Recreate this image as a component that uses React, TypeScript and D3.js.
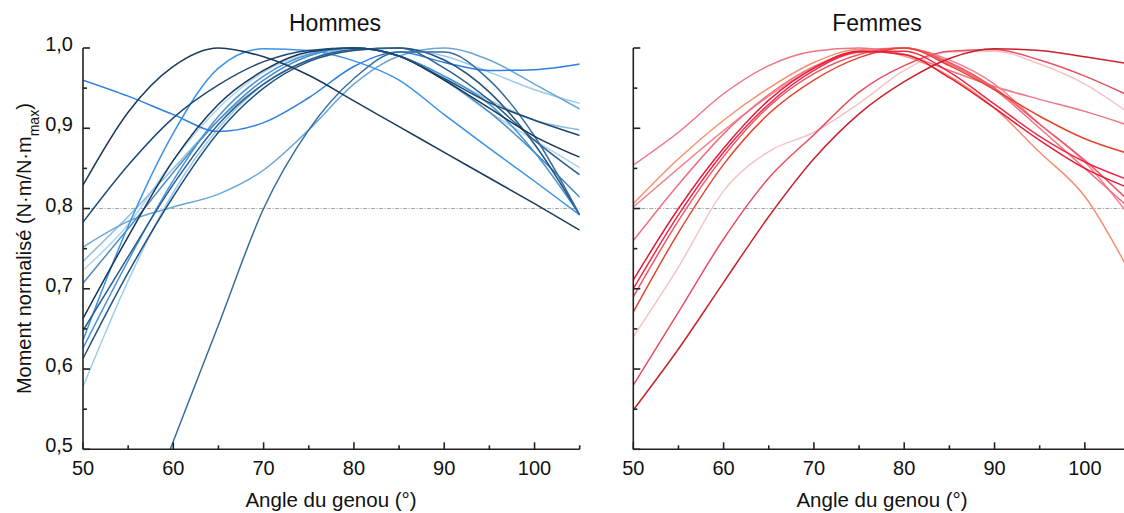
import React from "react";
import * as d3 from "d3";

// ---------- DATA ----------
const angles = [50, 55, 60, 65, 70, 75, 80, 85, 90, 95, 100, 105];

const xMajorTicks = [50, 60, 70, 80, 90, 100];
const xMinorTicks = [55, 65, 75, 85, 95, 105];
const yMajorTicks = [0.5, 0.6, 0.7, 0.8, 0.9, 1.0];
const yMinorTicks = [0.55, 0.65, 0.75, 0.85, 0.95];
const yTickLabels = ["0,5", "0,6", "0,7", "0,8", "0,9", "1,0"];
const referenceLevel = 0.8;

// Hommes (men)
const h01 = [0.96, 0.94, 0.917, 0.896, 0.907, 0.938, 0.977, 0.995, 0.982, 0.972, 0.973, 0.98];
const h02 = [0.829, 0.92, 0.977, 1.0, 0.989, 0.966, 0.934, 0.902, 0.87, 0.838, 0.806, 0.773];
const h03 = [0.783, 0.854, 0.913, 0.954, 0.983, 0.997, 1.0, 0.99, 0.962, 0.932, 0.91, 0.891];
const h04 = [0.636, 0.778, 0.894, 0.975, 0.999, 0.997, 0.984, 0.96, 0.917, 0.875, 0.834, 0.792];
const h05 = [0.752, 0.784, 0.802, 0.818, 0.848, 0.898, 0.955, 0.99, 1.0, 0.985, 0.955, 0.924];
const h06 = [0.22, 0.365, 0.51, 0.655, 0.8, 0.898, 0.962, 0.995, 0.995, 0.96, 0.89, 0.792];
const h07 = [0.734, 0.79, 0.85, 0.91, 0.955, 0.985, 1.0, 0.99, 0.965, 0.935, 0.91, 0.898];
const h08 = [0.723, 0.78, 0.86, 0.925, 0.97, 0.993, 1.0, 0.99, 0.96, 0.92, 0.885, 0.851];
const h09 = [0.707, 0.775, 0.845, 0.91, 0.96, 0.99, 1.0, 0.99, 0.96, 0.92, 0.87, 0.814];
const h10 = [0.663, 0.765, 0.86, 0.93, 0.972, 0.995, 1.0, 0.99, 0.96, 0.925, 0.89, 0.864];
const h11 = [0.648, 0.74, 0.83, 0.905, 0.955, 0.985, 0.998, 1.0, 0.975, 0.935, 0.885, 0.842];
const h12 = [0.626, 0.735, 0.835, 0.915, 0.965, 0.992, 1.0, 0.99, 0.965, 0.93, 0.87, 0.792];
const h13 = [0.613, 0.72, 0.815, 0.895, 0.95, 0.983, 0.997, 1.0, 0.985, 0.945, 0.88, 0.792];
const h14 = [0.578, 0.71, 0.82, 0.9, 0.955, 0.985, 0.998, 1.0, 0.99, 0.97, 0.948, 0.931];

const hommesSeries = [h14, h08, h07, h05, h09, h12, h01, h04, h13, h11, h06, h10, h03, h02];
const hommesColors = [
  "#9ccbf0", "#b0d4ef", "#8cbde3", "#6aa6d6", "#4f8dc0", "#4a94d8", "#2d7fe3",
  "#3b92ea", "#24527e", "#2a5f8f", "#356e9e", "#15365a", "#1f4a72", "#1b3a5c",
];

// Femmes (women)
const f01 = [0.854, 0.895, 0.943, 0.978, 0.996, 1.0, 0.992, 0.972, 0.952, 0.936, 0.921, 0.903];
const f02 = [0.806, 0.862, 0.91, 0.95, 0.982, 0.998, 0.99, 0.965, 0.925, 0.87, 0.815, 0.72];
const f03 = [0.802, 0.85, 0.897, 0.94, 0.975, 0.995, 1.0, 0.985, 0.955, 0.905, 0.858, 0.79];
const f04 = [0.76, 0.83, 0.893, 0.942, 0.977, 0.996, 1.0, 0.98, 0.948, 0.9, 0.85, 0.8];
const f05 = [0.711, 0.8, 0.875, 0.935, 0.975, 0.996, 0.992, 0.963, 0.925, 0.885, 0.85, 0.825];
const f06 = [0.7, 0.792, 0.87, 0.93, 0.972, 0.995, 0.996, 0.97, 0.93, 0.89, 0.858, 0.835];
const f07 = [0.69, 0.785, 0.865, 0.927, 0.968, 0.992, 1.0, 0.982, 0.95, 0.905, 0.86, 0.808];
const f08 = [0.671, 0.77, 0.855, 0.918, 0.96, 0.988, 1.0, 0.978, 0.948, 0.915, 0.887, 0.868];
const f09 = [0.64, 0.727, 0.822, 0.871, 0.895, 0.931, 0.972, 0.995, 0.996, 0.98, 0.955, 0.918];
const f10 = [0.58, 0.671, 0.762, 0.838, 0.892, 0.945, 0.978, 0.996, 0.998, 0.985, 0.965, 0.94];
const f11 = [0.549, 0.625, 0.708, 0.79, 0.862, 0.918, 0.958, 0.987, 0.999, 0.997, 0.989, 0.98];

const femmesSeries = [f09, f01, f03, f04, f02, f07, f10, f08, f06, f05, f11];
const femmesColors = [
  "#f8c2c6", "#ee7486", "#f28692", "#f07080", "#f7906e", "#f0566a",
  "#e4505e", "#e6452e", "#ef2848", "#e31c3a", "#c8222a",
];

// ---------- LAYOUT ----------
const W = 1124;
const H = 513;
const Y_TOP = 48;
const Y_BOTTOM = 449.3;
const FONT = "'Liberation Sans', Arial, Helvetica, sans-serif";

type PanelProps = {
  id: string;
  x0: number;
  x1: number;
  series: number[][];
  colors: string[];
  title: string;
  titleX: number;
  xLabelX: number;
  showYLabels: boolean;
};

function Panel({ id, x0, x1, series, colors, title, titleX, xLabelX, showYLabels }: PanelProps) {
  const x = d3.scaleLinear().domain([50, 105]).range([x0, x1]);
  const y = d3.scaleLinear().domain([0.5, 1.0]).range([Y_BOTTOM, Y_TOP]);
  const line = d3
    .line<number>()
    .x((_, i) => x(angles[i]))
    .y((d) => y(d))
    .curve(d3.curveMonotoneX);
  const axisColor = "#222";
  return (
    <g>
      <defs>
        <clipPath id={id}>
          <rect x={x0} y={Y_TOP - 4} width={x1 - x0} height={Y_BOTTOM - Y_TOP + 4} />
        </clipPath>
      </defs>
      <text x={titleX} y={31} textAnchor="middle" fontSize={23} fontFamily={FONT} fill="#111">
        {title}
      </text>
      <line
        x1={x0}
        x2={x1}
        y1={y(referenceLevel)}
        y2={y(referenceLevel)}
        stroke="#9a9a9a"
        strokeWidth={0.9}
        strokeDasharray="4 1.5 1 1.5"
      />
      <g clipPath={`url(#${id})`}>
        {series.map((s, i) => (
          <path key={i} d={line(s) || ""} fill="none" stroke={colors[i]} strokeWidth={1.5} />
        ))}
      </g>
      {/* axes */}
      <line x1={x0} x2={x0} y1={Y_TOP} y2={Y_BOTTOM} stroke={axisColor} strokeWidth={1.6} />
      <line x1={x0} x2={x1} y1={Y_BOTTOM} y2={Y_BOTTOM} stroke={axisColor} strokeWidth={1.6} />
      {yMajorTicks.map((t) => (
        <line key={"ym" + t} x1={x0} x2={x0 + 7} y1={y(t)} y2={y(t)} stroke={axisColor} strokeWidth={1.6} />
      ))}
      {yMinorTicks.map((t) => (
        <line key={"yn" + t} x1={x0} x2={x0 + 4} y1={y(t)} y2={y(t)} stroke={axisColor} strokeWidth={1.6} />
      ))}
      {xMajorTicks.map((t) => (
        <line key={"xm" + t} x1={x(t)} x2={x(t)} y1={Y_BOTTOM} y2={Y_BOTTOM - 7} stroke={axisColor} strokeWidth={1.6} />
      ))}
      {xMinorTicks.map((t) => (
        <line key={"xn" + t} x1={x(t)} x2={x(t)} y1={Y_BOTTOM} y2={Y_BOTTOM - 4} stroke={axisColor} strokeWidth={1.6} />
      ))}
      {xMajorTicks.map((t) => (
        <text key={"xl" + t} x={x(t)} y={475} textAnchor="middle" fontSize={20} fontFamily={FONT} fill="#111">
          {t}
        </text>
      ))}
      {showYLabels &&
        yMajorTicks.map((t, i) => (
          <text key={"yl" + t} x={x0 - 10} y={y(t) + 3} textAnchor="end" fontSize={20} fontFamily={FONT} fill="#111">
            {yTickLabels[i]}
          </text>
        ))}
      <text x={xLabelX} y={507} textAnchor="middle" fontSize={20.5} fontFamily={FONT} fill="#111">
        Angle du genou (°)
      </text>
    </g>
  );
}

export default function App() {
  const yMid = (Y_TOP + Y_BOTTOM) / 2;
  return (
    <svg
      width={W}
      height={H}
      viewBox={`0 0 ${W} ${H}`}
      style={{ position: "absolute", left: 0, top: 0, background: "#fff" }}
    >
      <rect x={0} y={0} width={W} height={H} fill="#fff" />
      <Panel
        id="clipH"
        x0={83}
        x1={579.7}
        series={hommesSeries}
        colors={hommesColors}
        title="Hommes"
        titleX={335}
        xLabelX={331}
        showYLabels={true}
      />
      <Panel
        id="clipF"
        x0={633.3}
        x1={1130}
        series={femmesSeries}
        colors={femmesColors}
        title="Femmes"
        titleX={877}
        xLabelX={882}
        showYLabels={false}
      />
      <text
        transform={`translate(31, ${yMid}) rotate(-90)`}
        textAnchor="middle"
        fontSize={20}
        fontFamily={FONT}
        fill="#111"
      >
        Moment normalisé (N·m/N·m
        <tspan baselineShift="sub" fontSize={14}>
          max
        </tspan>
        )
      </text>
    </svg>
  );
}
